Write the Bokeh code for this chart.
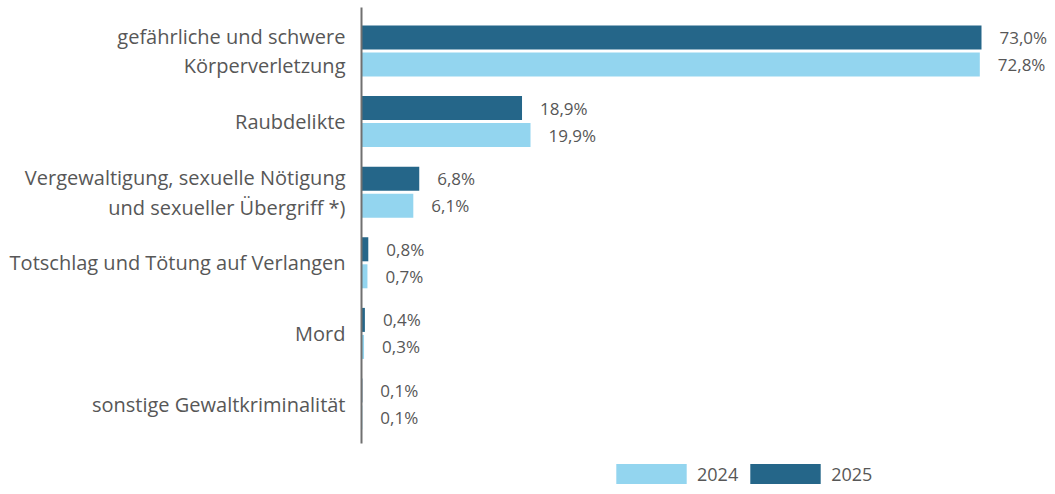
from bokeh.plotting import figure
from bokeh.models import Range1d, ColumnDataSource, Legend, LegendItem
from bokeh.core.properties import value
from bokeh.embed import file_html
from bokeh.resources import INLINE

categories = [
    "gefährliche und schwere\nKörperverletzung",
    "Raubdelikte",
    "Vergewaltigung, sexuelle Nötigung\nund sexueller Übergriff *)",
    "Totschlag und Tötung auf Verlangen",
    "Mord",
    "sonstige Gewaltkriminalität",
]
v2025 = [73.0, 18.9, 6.8, 0.8, 0.4, 0.1]
v2024 = [72.8, 19.9, 6.1, 0.7, 0.3, 0.1]
years = ["2024", "2025"]

C_DARK = "#256689"
C_LIGHT = "#93d5ef"
TXT = "#575757"
FONT = "Open Sans"

W, H = 1047, 486
ppu = 620 / 73.0          # pixels per percent
zero_px = 361             # frame x of the value 0
pitch = 70.6              # pixels per category row
top_px = 50.5             # frame y of first row centre

p = figure(width=W, height=H, output_backend="svg", toolbar_location=None,
           x_range=Range1d(-zero_px / ppu, (W - zero_px) / ppu),
           y_range=Range1d((H - top_px) / pitch, -top_px / pitch),
           min_border=0)
p.xaxis.visible = False
p.yaxis.visible = False
p.xgrid.visible = False
p.ygrid.visible = False
p.outline_line_color = None
p.background_fill_color = None
p.border_fill_color = None

idx = list(range(len(categories)))
off = 13.5 / pitch
bh = 24 / pitch

fmt = lambda v: f"{v:.1f}%".replace(".", ",")

src25 = ColumnDataSource(dict(y=[i - off for i in idx], v=v2025, lab=[fmt(v) for v in v2025]))
src24 = ColumnDataSource(dict(y=[i + off for i in idx], v=v2024, lab=[fmt(v) for v in v2024]))

r25 = p.hbar(y="y", right="v", left=0, height=bh, source=src25, fill_color=C_DARK, line_color=None)
r24 = p.hbar(y="y", right="v", left=0, height=bh, source=src24, fill_color=C_LIGHT, line_color=None)

for s in (src25, src24):
    p.text(x="v", y="y", text="lab", source=s, x_offset=18, text_align="left",
           text_baseline="middle", text_font=value(FONT), text_font_size="17px",
           text_color=TXT)

csrc = ColumnDataSource(dict(x=[0] * len(categories), y=idx, t=categories))
p.text(x="x", y="y", text="t", source=csrc, x_offset=-16, text_align="right",
       text_baseline="middle", text_font=value(FONT), text_font_size="20px",
       text_color=TXT, text_line_height=1.1)

# vertical axis line
p.segment(x0=[0], y0=[(7 - top_px) / pitch], x1=[0], y1=[(443 - top_px) / pitch],
          line_color="#707070", line_width=2)

legend = Legend(items=[LegendItem(label=years[0], renderers=[r24]),
                       LegendItem(label=years[1], renderers=[r25])],
                orientation="horizontal", location=(607, 0),
                glyph_width=88, glyph_height=25, label_standoff=2, spacing=3,
                padding=0, margin=0, border_line_alpha=0, background_fill_alpha=0,
                label_text_font=FONT, label_text_font_size="18px",
                label_text_color=TXT)
p.add_layout(legend)

open("out.html", "w").write(file_html(p, INLINE))
